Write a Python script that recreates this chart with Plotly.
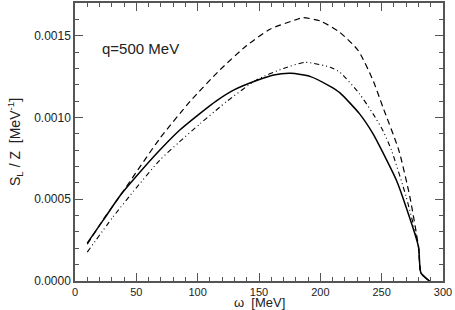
import plotly.graph_objects as go

# Solid curve
omega_solid = [10, 23, 37, 50, 69, 85, 102, 115, 130, 148, 162, 176, 192, 208, 216, 232, 243, 250, 262, 268, 280, 282, 289]
s_solid = [0.000232, 0.000372, 0.000524, 0.00064, 0.000799, 0.00092, 0.001025, 0.0011, 0.00117, 0.001226, 0.00126,
           0.00127, 0.00125, 0.00119, 0.00115, 0.001022, 0.0009, 0.0008, 0.000616, 0.000494, 0.00021, 0.00005, 0.0]

# Dashed curve
omega_dash = [10, 23, 37, 69, 94, 118, 140, 159, 181, 186, 200, 216, 231, 243, 251, 264, 273, 280, 282, 289]
s_dash = [0.000225, 0.000375, 0.000524, 0.00087, 0.0011, 0.00129, 0.00144, 0.00154, 0.0016, 0.00161,
          0.00159, 0.00152, 0.001408, 0.001226, 0.001063, 0.000799, 0.000514, 0.00021, 0.00005, 0.0]

# Dash-dot curve
omega_dd = [10, 31, 50, 69, 85, 102, 118, 124, 148, 170, 188, 208, 216, 232, 243, 251, 258, 270, 280, 282, 289]
s_dd = [0.000177, 0.000392, 0.00057, 0.000738, 0.00085, 0.000962, 0.001063, 0.0011, 0.00123, 0.0013,
        0.001337, 0.001307, 0.001276, 0.001144, 0.001022, 0.00092, 0.000799, 0.000514, 0.00021, 0.00005, 0.0]

x_ticks = [0, 50, 100, 150, 200, 250, 300]
y_ticks = [0.0, 0.0005, 0.0010, 0.0015]
y_tick_labels = ["0.0000", "0.0005", "0.0010", "0.0015"]

annotation_text = "q=500 MeV"
x_title = "ω  [MeV]"
y_title = "S<sub>L</sub> / Z  [MeV<sup>-1</sup>]"

fig = go.Figure()
fig.add_trace(go.Scatter(x=omega_dash, y=s_dash, mode="lines",
                         line=dict(color="black", width=1.2, dash="6px,4px", shape="spline", smoothing=0.6)))
fig.add_trace(go.Scatter(x=omega_dd, y=s_dd, mode="lines",
                         line=dict(color="black", width=1.1, dash="5px,3px,1px,3px,1px,3px", shape="spline", smoothing=0.6)))
fig.add_trace(go.Scatter(x=omega_solid, y=s_solid, mode="lines",
                         line=dict(color="black", width=1.5, shape="spline", smoothing=0.6)))

font_fam = "Liberation Sans, Arial, sans-serif"
axcol = "#555555"
txtcol = "#222222"

fig.update_layout(
    width=455, height=310,
    margin=dict(l=75, r=12, t=3, b=29, autoexpand=False),
    paper_bgcolor="white", plot_bgcolor="white",
    showlegend=False,
    font=dict(family=font_fam, size=12, color=txtcol),
    annotations=[
        dict(x=20, y=0.00142, xref="x", yref="y", text=annotation_text, showarrow=False,
             xanchor="left", yanchor="middle", font=dict(size=15, color=txtcol, family=font_fam)),
        dict(x=0.5, y=0, xref="paper", yref="paper", text=x_title, showarrow=False,
             xanchor="center", yanchor="top", yshift=-12, font=dict(size=13, color=txtcol, family=font_fam)),
        dict(x=0, y=0.5, xref="paper", yref="paper", text=y_title, showarrow=False, textangle=-90,
             xanchor="right", yanchor="middle", xshift=-48, font=dict(size=14, color=txtcol, family=font_fam)),
    ],
)
fig.update_xaxes(
    range=[0, 300], tickvals=x_ticks, ticktext=[str(v) for v in x_ticks],
    tickfont=dict(size=11),
    ticks="inside", ticklen=8, tickwidth=1, tickcolor=axcol,
    minor=dict(ticks="inside", dtick=10, ticklen=4, tickcolor=axcol, tickwidth=1),
    showline=True, linecolor=axcol, linewidth=1.5, mirror="allticks",
    showgrid=False, zeroline=False, automargin=False,
)
fig.update_yaxes(
    range=[0, 0.0017], tickvals=y_ticks, ticktext=y_tick_labels,
    ticks="inside", ticklen=8, tickwidth=1, tickcolor=axcol,
    minor=dict(ticks="inside", dtick=0.0001, ticklen=4, tickcolor=axcol, tickwidth=1),
    showline=True, linecolor=axcol, linewidth=1.5, mirror="allticks",
    showgrid=False, zeroline=False, automargin=False,
)

fig.write_html("out.html", config={"displayModeBar": False},
               post_script="document.body.style.margin='0';")
